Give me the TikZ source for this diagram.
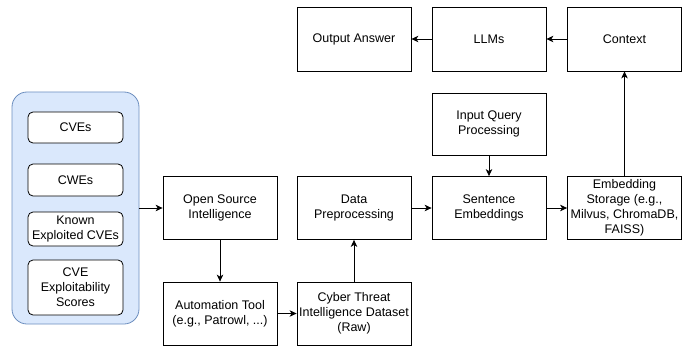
\documentclass[tikz,border=0pt]{standalone}
\usepackage{fontspec}
\setmainfont{Liberation Sans}
\usetikzlibrary{arrows.meta}
\definecolor{bluefill}{HTML}{DAE8FC}
\definecolor{blueline}{HTML}{6C8EBF}
\begin{document}
\begin{tikzpicture}[x=1pt,y=-1pt,
  font=\fontsize{12.5}{15}\selectfont,
  box/.style={draw=black,line width=0.8pt,fill=white,minimum width=114pt,minimum height=63pt,inner sep=0pt,align=center},
  inbox/.style={draw=black,line width=0.8pt,fill=white,rounded corners=5pt,minimum width=95pt,inner sep=0pt,align=center},
  arr/.style={draw=black,line width=0.8pt,-{Stealth[length=7pt,width=6.5pt,inset=2pt]}}]
\useasboundingbox (0,0) rectangle (687,350);
% container
\node[draw=blueline,fill=bluefill,line width=0.8pt,rounded corners=15pt,minimum width=127pt,minimum height=232pt,inner sep=0pt] (src) at (75.5,208) {};
\node[inbox,minimum height=31pt] (cves) at (75.5,127.5) {CVEs};
\node[inbox,minimum height=32pt] (cwes) at (75.5,180) {CWEs};
\node[inbox,minimum height=34pt] (kev) at (75.5,229) {Known\\Exploited CVEs};
\node[inbox,minimum height=55pt] (cvss) at (75.5,287.5) {CVE\\Exploitability\\Scores};
% main boxes
\node[box] (osi) at (220,208) {Open Source\\Intelligence};
\node[box] (auto) at (220,313.5) {Automation Tool\\(e.g., Patrowl, ...)};
\node[box] (cti) at (354,313.5) {Cyber Threat\\Intelligence Dataset\\(Raw)};
\node[box] (prep) at (354,208) {Data\\Preprocessing};
\node[box] (sent) at (489,208) {Sentence\\Embeddings};
\node[box] (store) at (624.5,208) {Embedding\\Storage (e.g.,\\Milvus, ChromaDB,\\FAISS)};
\node[box,minimum height=62pt] (query) at (489,124) {Input Query\\Processing};
\node[box,minimum height=64pt] (out) at (354,39) {Output Answer};
\node[box,minimum height=64pt] (llm) at (489,39) {LLMs};
\node[box,minimum height=64pt] (ctx) at (624.5,39) {Context};
% connectors
\draw[arr] (src.east) -- (osi.west);
\draw[arr] (osi.south) -- (auto.north);
\draw[arr] (auto.east) -- (cti.west);
\draw[arr] (cti.north) -- (prep.south);
\draw[arr] (prep.east) -- (sent.west);
\draw[arr] (query.south) -- (sent.north);
\draw[arr] (sent.east) -- (store.west);
\draw[arr] (store.north) -- (ctx.south);
\draw[arr] (ctx.west) -- (llm.east);
\draw[arr] (llm.west) -- (out.east);
\end{tikzpicture}
\end{document}
